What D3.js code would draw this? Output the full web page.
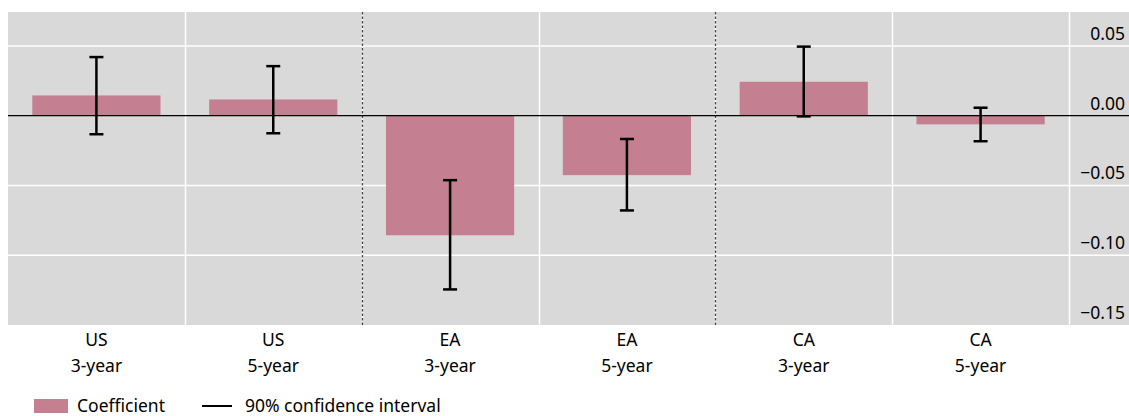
<!DOCTYPE html>
<html>
<head>
<meta charset="utf-8">
<script src="https://cdn.jsdelivr.net/npm/d3@7"></script>
<style>
  body { margin: 0; background: #fff; }
  text { font-family: "Noto Sans", "Open Sans", sans-serif; fill: #000; }
</style>
</head>
<body>
<svg id="chart" width="1129" height="416"></svg>
<script>
// chart data
var regions = ["US", "US", "EA", "EA", "CA", "CA"];
var maturities = ["3-year", "5-year", "3-year", "5-year", "3-year", "5-year"];
var coefficient = [0.0145, 0.0116, -0.0857, -0.0426, 0.0243, -0.0062];
var ciLow = [-0.0133, -0.0126, -0.1245, -0.0679, -0.0005, -0.0183];
var ciHigh = [0.0420, 0.0355, -0.0462, -0.0167, 0.0495, 0.0057];
var yTicks = [0.05, 0.00, -0.05, -0.10, -0.15];

var svg = d3.select("svg#chart");

var plot = {left: 8, right: 1069, top: 12, bottom: 325, edge: 1129};
var fs = 17.5;

var keys = d3.range(coefficient.length);

var x = d3.scaleBand().domain(keys).range([plot.left, plot.right]);
var y = d3.scaleLinear().domain([-0.15, 0.0743]).range([plot.bottom, plot.top]);

var barW = x.bandwidth() * 0.725;

// background
svg.append("rect")
  .attr("x", plot.left).attr("y", plot.top)
  .attr("width", plot.edge - plot.left).attr("height", plot.bottom - plot.top)
  .attr("fill", "#d9d9d9");

// horizontal grid
svg.selectAll(".hgrid")
  .data(yTicks.filter(function(d) { return d != 0 && d != -0.15; }))
  .enter().append("line")
  .attr("class", "hgrid")
  .attr("x1", plot.left).attr("x2", plot.edge)
  .attr("y1", function(d) { return y(d); }).attr("y2", function(d) { return y(d); })
  .attr("stroke", "#fff").attr("stroke-width", 1.5);

// vertical separators: white between maturities, dotted between regions
var solid = [x(1), x(3), x(5), plot.right];
svg.selectAll(".vgrid")
  .data(solid)
  .enter().append("line")
  .attr("class", "vgrid")
  .attr("x1", function(d) { return Math.round(d) + 0.5; })
  .attr("x2", function(d) { return Math.round(d) + 0.5; })
  .attr("y1", plot.top).attr("y2", plot.bottom)
  .attr("stroke", "#fff").attr("stroke-width", 1.5);

var dashed = [x(2), x(4)];
svg.selectAll(".vbg")
  .data(dashed)
  .enter().append("line")
  .attr("class", "vbg")
  .attr("x1", function(d) { return Math.round(d) + 0.5; })
  .attr("x2", function(d) { return Math.round(d) + 0.5; })
  .attr("y1", plot.top).attr("y2", plot.bottom)
  .attr("stroke", "#fff").attr("stroke-width", 1.5);

svg.selectAll(".vdash")
  .data(dashed)
  .enter().append("line")
  .attr("class", "vdash")
  .attr("x1", function(d) { return Math.round(d) + 0.5; })
  .attr("x2", function(d) { return Math.round(d) + 0.5; })
  .attr("y1", plot.top).attr("y2", plot.bottom + 1)
  .attr("stroke", "#444").attr("stroke-width", 1.3)
  .attr("stroke-dasharray", "2.5,2");

// bars
svg.selectAll(".bar")
  .data(keys)
  .enter().append("rect")
  .attr("class", "bar")
  .attr("x", function(i) { return x(i) + (x.bandwidth() - barW) / 2; })
  .attr("width", barW)
  .attr("y", function(i) { return y(Math.max(0, coefficient[i])); })
  .attr("height", function(i) { return Math.abs(y(coefficient[i]) - y(0)); })
  .attr("fill", "#c47f90");

// zero line
svg.append("line")
  .attr("x1", plot.left).attr("x2", plot.edge)
  .attr("y1", y(0)).attr("y2", y(0))
  .attr("stroke", "#000").attr("stroke-width", 1.3);

// error bars
var cap = 7;
var cx = function(i) { return x(i) + x.bandwidth() / 2; };
var eb = svg.selectAll(".err").data(keys).enter().append("g").attr("class", "err");
eb.append("line")
  .attr("x1", cx).attr("x2", cx)
  .attr("y1", function(i) { return y(ciLow[i]); })
  .attr("y2", function(i) { return y(ciHigh[i]); })
  .attr("stroke", "#000").attr("stroke-width", 2.5);
eb.append("line")
  .attr("x1", function(i) { return cx(i) - cap; })
  .attr("x2", function(i) { return cx(i) + cap; })
  .attr("y1", function(i) { return y(ciHigh[i]); })
  .attr("y2", function(i) { return y(ciHigh[i]); })
  .attr("stroke", "#000").attr("stroke-width", 2.5);
eb.append("line")
  .attr("x1", function(i) { return cx(i) - cap; })
  .attr("x2", function(i) { return cx(i) + cap; })
  .attr("y1", function(i) { return y(ciLow[i]); })
  .attr("y2", function(i) { return y(ciLow[i]); })
  .attr("stroke", "#000").attr("stroke-width", 2.5);

// y tick labels (right side, sitting above the gridline)
svg.selectAll(".ylab")
  .data(yTicks)
  .enter().append("text")
  .attr("class", "ylab")
  .attr("x", 1125)
  .attr("y", function(d) { return y(d) - 6; })
  .attr("text-anchor", "end")
  .attr("font-size", fs)
  .text(function(d) { return d3.format(".2f")(d).replace("-", "\u2013"); });

// category labels
var xl = svg.selectAll(".xlab").data(keys).enter().append("text")
  .attr("class", "xlab")
  .attr("text-anchor", "middle")
  .attr("font-size", fs);
xl.append("tspan")
  .attr("x", cx)
  .attr("y", 346)
  .text(function(i) { return regions[i]; });
xl.append("tspan")
  .attr("x", cx)
  .attr("y", 372)
  .text(function(i) { return maturities[i]; });

// legend
var lg = svg.append("g").attr("class", "legend");
lg.append("rect").attr("x", 34).attr("y", 399).attr("width", 34).attr("height", 14).attr("fill", "#c47f90");
lg.append("text").attr("x", 77).attr("y", 412).attr("font-size", fs).text("Coefficient");
lg.append("line").attr("x1", 202).attr("x2", 232).attr("y1", 406).attr("y2", 406)
  .attr("stroke", "#000").attr("stroke-width", 2);
lg.append("text").attr("x", 245).attr("y", 412).attr("font-size", fs).text("90% confidence interval");
</script>
</body>
</html>
